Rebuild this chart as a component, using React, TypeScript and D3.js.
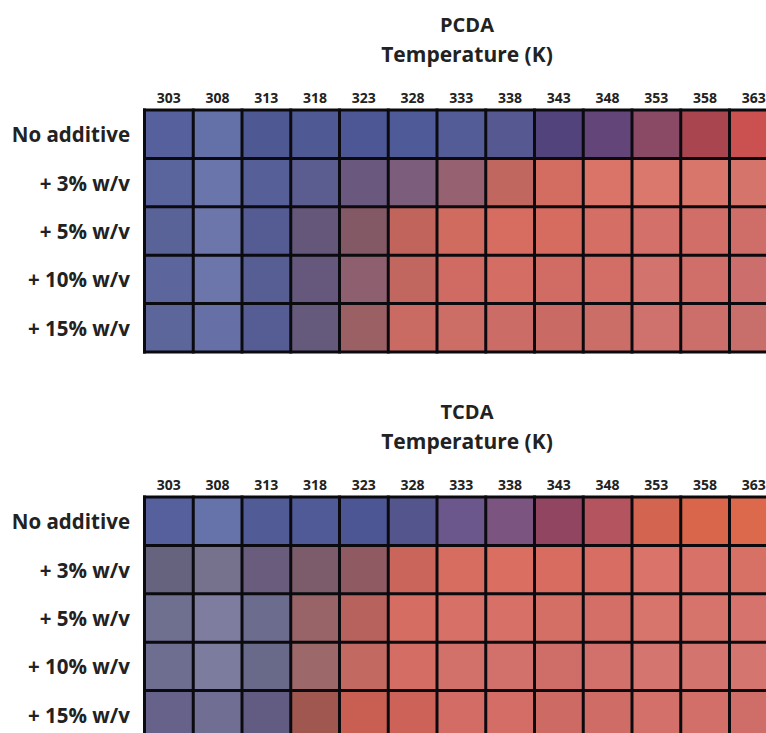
import React from "react";
import * as d3 from "d3";

const temperatures = [303, 308, 313, 318, 323, 328, 333, 338, 343, 348, 353, 358, 363];
const rowLabels = ["No additive", "+ 3% w/v", "+ 5% w/v", "+ 10% w/v", "+ 15% w/v"];

const pcdaNoAdditive = ["#55609c", "#6470a8", "#4e5994", "#4f5a95", "#4d5795", "#4f5a98", "#545c98", "#565892", "#52437c", "#64457a", "#8a4a66", "#a9454e", "#cb5150"];
const pcda3 = ["#5a659d", "#6a75ab", "#565f98", "#5b5c90", "#6a587f", "#7c5d7c", "#966272", "#c0685f", "#d36d62", "#da7468", "#db786d", "#d8766b", "#d5746a"];
const pcda5 = ["#5a6398", "#6c76aa", "#545c93", "#64577a", "#845966", "#c0645c", "#d06b5f", "#d76d60", "#d66b60", "#d56e64", "#d3706a", "#d16e68", "#cf6e69"];
const pcda10 = ["#5c659c", "#6c76aa", "#575e94", "#66587c", "#8e5f6e", "#c2675f", "#d06b63", "#d46e64", "#d06c64", "#d36e66", "#d3736d", "#d06f6a", "#cc6e6b"];
const pcda15 = ["#5c669b", "#6670a6", "#565d94", "#665a7c", "#9a6064", "#c96a63", "#cc6d66", "#cc6c66", "#c96a65", "#cc6e68", "#cf716c", "#cc6f6a", "#c86e6b"];

const tcdaNoAdditive = ["#55609c", "#6673ab", "#515b96", "#4f5a97", "#4d5694", "#55558e", "#6b578c", "#7b5480", "#914561", "#b4545e", "#d3644f", "#d9654a", "#dc694c"];
const tcda3 = ["#66637f", "#76728e", "#6a5c7c", "#7c5b6a", "#8f5a62", "#c9655b", "#d66d60", "#d96e61", "#d86c60", "#d86e63", "#da746a", "#d87268", "#d77166"];
const tcda5 = ["#6f6f8f", "#7e7d9f", "#6c6c8e", "#996468", "#b8625d", "#d56d63", "#d77167", "#d77167", "#d46f66", "#d46f67", "#d7756c", "#d6736b", "#d5736c"];
const tcda10 = ["#6e6e90", "#7c7c9e", "#696989", "#9d6869", "#c26962", "#d46e65", "#d2716a", "#d2716b", "#cf6e68", "#d2706b", "#d4756f", "#d4746f", "#d47570"];
const tcda15 = ["#66628a", "#716e94", "#625b82", "#a0574f", "#c95f52", "#cd6258", "#d26c64", "#d36d65", "#cd6a63", "#d06c66", "#d3706a", "#d26f69", "#cf6e69"];

const panels = [
  { title: "PCDA", top: 110, rows: [pcdaNoAdditive, pcda3, pcda5, pcda10, pcda15] },
  { title: "TCDA", top: 497, rows: [tcdaNoAdditive, tcda3, tcda5, tcda10, tcda15] },
];

const W = 766;
const H = 733;
const gridLeft = 144.5;
const cellW = 48.75;
const cellH = 48.4;
const font = "'Open Sans', 'Noto Sans', sans-serif";

function Panel({ title, top, rows }: { title: string; top: number; rows: string[][] }) {
  const x = d3
    .scaleBand<number>()
    .domain(temperatures)
    .range([gridLeft, gridLeft + cellW * temperatures.length])
    .padding(0);
  const y = d3
    .scaleBand<string>()
    .domain(rowLabels)
    .range([top, top + cellH * rowLabels.length])
    .padding(0);
  const [x0, x1] = x.range();
  const [y0, y1] = y.range();
  const cx = 467;
  return (
    <g>
      <text x={cx} y={top - 86} textAnchor="middle" dominantBaseline="central" fontFamily={font} fontWeight={700} fontSize={20} fill="#222">
        {title}
      </text>
      <text x={cx} y={top - 56} textAnchor="middle" dominantBaseline="central" fontFamily={font} fontWeight={700} fontSize={21} fill="#222">
        Temperature (K)
      </text>
      {temperatures.map((t) => (
        <text key={t} x={x(t)! + x.bandwidth() / 2} y={top - 13} textAnchor="middle" dominantBaseline="central" fontFamily={font} fontWeight={700} fontSize={14} fill="#222">
          {t}
        </text>
      ))}
      {rowLabels.map((r) => (
        <text key={r} x={130} y={y(r)! + y.bandwidth() / 2} textAnchor="end" dominantBaseline="central" fontFamily={font} fontWeight={700} fontSize={20.5} fill="#222">
          {r}
        </text>
      ))}
      {rows.map((row, i) =>
        row.map((c, j) => (
          <rect key={`${i}-${j}`} x={x(temperatures[j])} y={y(rowLabels[i])} width={x.bandwidth()} height={y.bandwidth()} fill={c} />
        ))
      )}
      {temperatures.map((t) => (
        <line key={`v${t}`} x1={x(t)} x2={x(t)} y1={y0 - 1.5} y2={y1 + 1.5} stroke="#0a0a0f" strokeWidth={3} />
      ))}
      <line x1={x1} x2={x1} y1={y0} y2={y1} stroke="#0a0a0f" strokeWidth={3} />
      {rowLabels.map((r) => (
        <line key={`h${r}`} x1={x0 - 1.5} x2={x1} y1={y(r)} y2={y(r)} stroke="#0a0a0f" strokeWidth={3} />
      ))}
      <line x1={x0 - 1.5} x2={x1} y1={y1} y2={y1} stroke="#0a0a0f" strokeWidth={3} />
    </g>
  );
}

export default function App() {
  return (
    <svg width={W} height={H} viewBox={`0 0 ${W} ${H}`} style={{ position: "absolute", left: 0, top: 0, background: "#fff" }}>
      <rect width={W} height={H} fill="#fff" />
      {panels.map((p) => (
        <Panel key={p.title} title={p.title} top={p.top} rows={p.rows} />
      ))}
    </svg>
  );
}
